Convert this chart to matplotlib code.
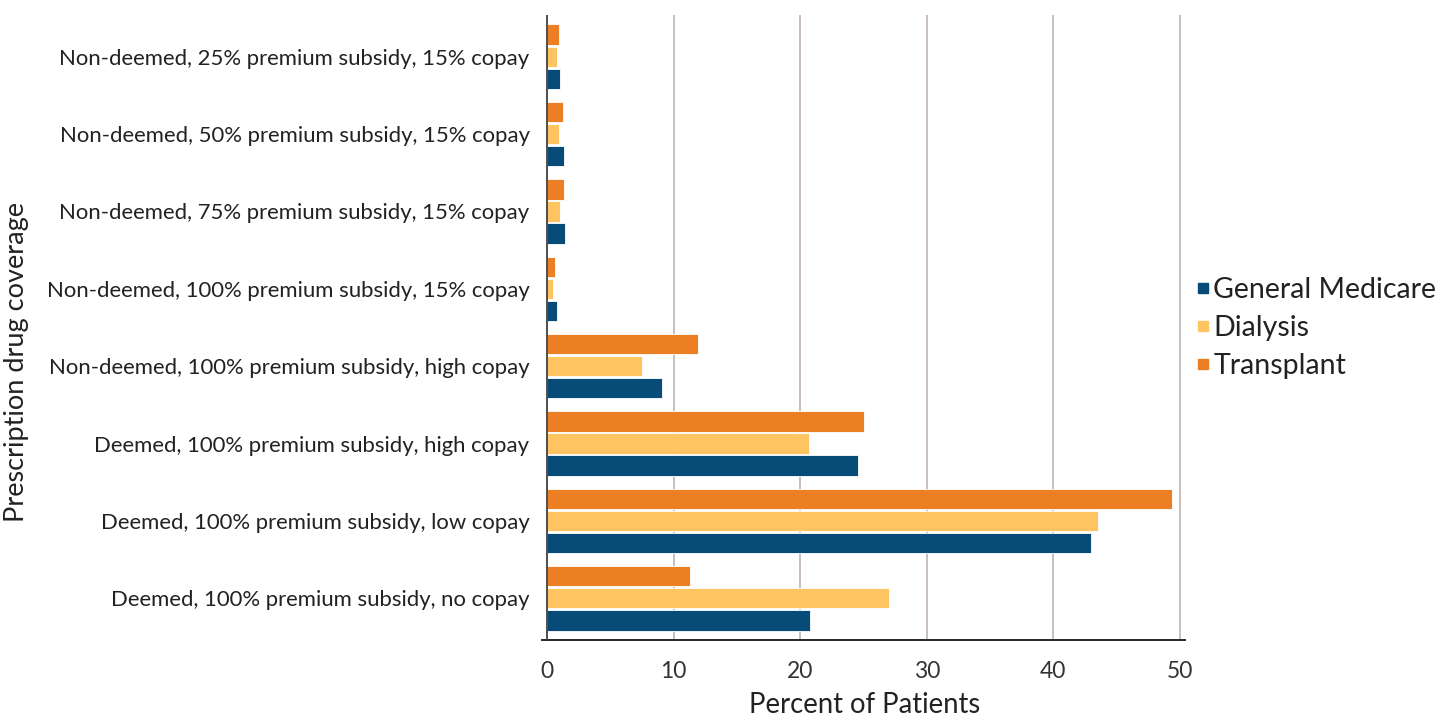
import numpy as np
import matplotlib.pyplot as plt
from matplotlib.lines import Line2D

# coverage categories, listed bottom to top
categories = [
    "Deemed, 100% premium subsidy, no copay",
    "Deemed, 100% premium subsidy, low copay",
    "Deemed, 100% premium subsidy, high copay",
    "Non-deemed, 100% premium subsidy, high copay",
    "Non-deemed, 100% premium subsidy, 15% copay",
    "Non-deemed, 75% premium subsidy, 15% copay",
    "Non-deemed, 50% premium subsidy, 15% copay",
    "Non-deemed, 25% premium subsidy, 15% copay",
]
general_medicare = [20.8, 43.0, 24.6, 9.1, 0.8, 1.4, 1.3, 1.0]
dialysis = [27.0, 43.5, 20.7, 7.5, 0.45, 1.05, 0.97, 0.8]
transplant = [11.3, 49.4, 25.0, 11.9, 0.63, 1.34, 1.26, 0.97]

series = ["General Medicare", "Dialysis", "Transplant"]
colors = ["#074b78", "#fdc461", "#ec7e24"]

plt.rcParams['font.family'] = ['Lato', 'DejaVu Sans']

fig = plt.figure(figsize=(14.56, 7.23), dpi=100)
ax = fig.add_axes([542/1456, 1 - 640/723, (1185 - 542)/1456, (640 - 15)/723])

y = np.arange(len(categories))
h = 0.265
offs = [-0.285, 0.0, 0.285]
for vals, off, c in zip([general_medicare, dialysis, transplant], offs, colors):
    ax.barh(y + off, vals, height=h, color=c, edgecolor='white', linewidth=0.6, zorder=2)

ax.set_xlim(-0.4, 50.4)
ax.set_ylim(-0.54, 7.54)
ax.set_xticks([0, 10, 20, 30, 40, 50])
ax.set_yticks(y)
ax.set_yticklabels(categories)

for x in [10, 20, 30, 40, 50]:
    ax.axvline(x, color='#bdb3b1', lw=1.2, zorder=1)
ax.axvline(0, color='#404040', lw=1.3, zorder=3)

for s in ['left', 'right', 'top']:
    ax.spines[s].set_visible(False)
ax.spines['bottom'].set_color('#262626')
ax.spines['bottom'].set_linewidth(1.4)

ax.tick_params(axis='x', length=0, pad=15, labelsize=16.5, labelcolor='#333333')
ax.tick_params(axis='y', length=0, pad=9, labelsize=15.9, labelcolor='#222222')

fig.text(865/1456, 1 - 705/723, "Percent of Patients", ha='center', va='center',
         fontsize=19.8, color='#222222')
fig.text(17/1456, 0.5, "Prescription drug coverage", ha='center', va='center',
         rotation=90, fontsize=19.5, color='#222222')

handles = [Line2D([], [], marker='s', ls='none', color=c, markersize=7) for c in colors]
fig.legend(handles, series, loc='center left', bbox_to_anchor=(1185/1456, 1 - 328/723),
           frameon=False, fontsize=20.5, handlelength=0.45, handletextpad=0.15,
           labelspacing=0.42, borderaxespad=0, labelcolor='#222222')

fig.savefig('out.png', dpi=100, facecolor='white')
